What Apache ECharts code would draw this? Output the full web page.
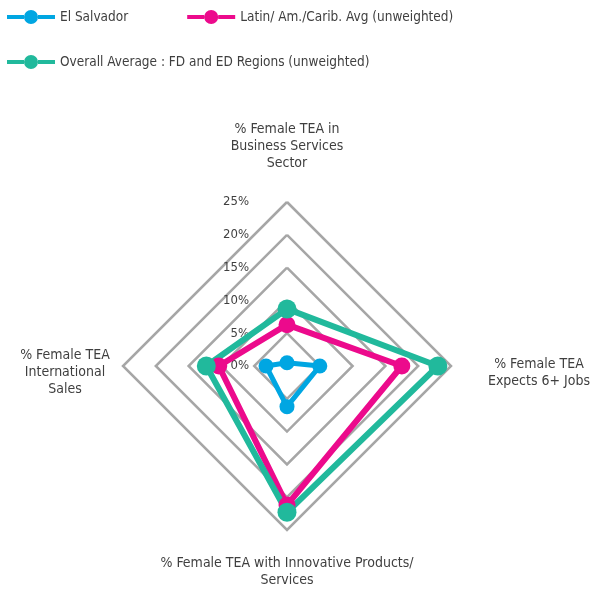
<!DOCTYPE html>
<html><head><meta charset="utf-8">
<script src="https://cdn.jsdelivr.net/npm/echarts@6/dist/echarts.min.js"></script>
<style>html,body{margin:0;padding:0;background:#fff}#c{width:592px;height:593px}</style>
</head><body><div id="c"></div>
<script>
// indicators in ECharts order (counter-clockwise from top)
const indicatorNames = [
  '% Female TEA in\nBusiness Services\nSector',
  '% Female TEA\nInternational\nSales',
  '% Female TEA with Innovative Products/\nServices',
  '% Female TEA\nExpects 6+ Jobs'
];
const seriesNames = ['El Salvador', 'Latin/ Am./Carib. Avg (unweighted)', 'Overall Average : FD and ED Regions (unweighted)'];
const elSalvador = [0.5, 3.2, 6.2, 5.0];
const latinAvg = [6.3, 10.4, 21.2, 17.5];
const overallAvg = [8.7, 12.3, 22.3, 23.0];
const tickLabels = ['0%', '5%', '10%', '15%', '20%', '25%'];
const axisMax = 25;

const FONT = '"Liberation Sans Narrow", "DejaVu Sans Condensed", "Arial Narrow", sans-serif';
const TXT = '#3f3f3f';
const colors = ['#00A6E2', '#EC0A8C', '#21B99C'];
const icon = 'path://M0,5H17V9H0Z M31,5H48V9H31Z M17,7a7,7 0 1,0 14,0a7,7 0 1,0 -14,0Z';

const nameLayouts = [
  {nameGap: 30, nameTextStyle: {align: 'center', verticalAlign: 'bottom'}, axisLabel: {show: true}, shift: 0},
  {nameGap: 58, nameTextStyle: {align: 'center', verticalAlign: 'middle'}, axisLabel: {show: false}, shift: 1},
  {nameGap: 25, nameTextStyle: {align: 'center', verticalAlign: 'top'}, axisLabel: {show: false}, shift: 0},
  {nameGap: 88, nameTextStyle: {align: 'center', verticalAlign: 'middle'}, axisLabel: {show: false}, shift: 1}
];

const chart = echarts.init(document.getElementById('c'));
chart.setOption({
  animation: false,
  legend: [
    {data: seriesNames.slice(0, 2), left: 7, top: 10, padding: 0, itemWidth: 48, itemHeight: 14, itemGap: 59,
     icon: icon, textStyle: {fontFamily: FONT, fontSize: 13.5, color: TXT}},
    {data: seriesNames.slice(2), left: 7, top: 55, padding: 0, itemWidth: 48, itemHeight: 14,
     icon: icon, textStyle: {fontFamily: FONT, fontSize: 13.5, color: TXT}}
  ],
  radar: {
    center: [287, 366],
    radius: 164,
    startAngle: 90,
    shape: 'polygon',
    splitNumber: 5,
    indicator: indicatorNames.map((n, i) => Object.assign({name: n, min: 0, max: axisMax}, nameLayouts[i])),
    axisName: {fontFamily: FONT, fontSize: 14, lineHeight: 17, color: TXT,
      rich: {s: {height: 13, lineHeight: 13, fontSize: 1}},
      formatter: (name, ind) => ind.shift ? '{s|}\n' + name : name},
    axisLine: {show: false},
    axisTick: {show: false},
    axisLabel: {show: false, margin: 38, fontFamily: FONT, fontSize: 13, color: TXT,
      formatter: (v) => tickLabels[Math.round(v / 5)]},
    splitLine: {lineStyle: {color: '#a6a6a6', width: 2.5}},
    splitArea: {show: false}
  },
  series: [{
    type: 'radar',
    symbol: 'circle',
    data: [
      {name: seriesNames[0], value: elSalvador, symbolSize: 15,
       lineStyle: {color: colors[0], width: 5}, itemStyle: {color: colors[0]}},
      {name: seriesNames[1], value: latinAvg, symbolSize: 17,
       lineStyle: {color: colors[1], width: 6}, itemStyle: {color: colors[1]}},
      {name: seriesNames[2], value: overallAvg, symbolSize: 19,
       lineStyle: {color: colors[2], width: 6}, itemStyle: {color: colors[2]}}
    ]
  }]
});
</script></body></html>
